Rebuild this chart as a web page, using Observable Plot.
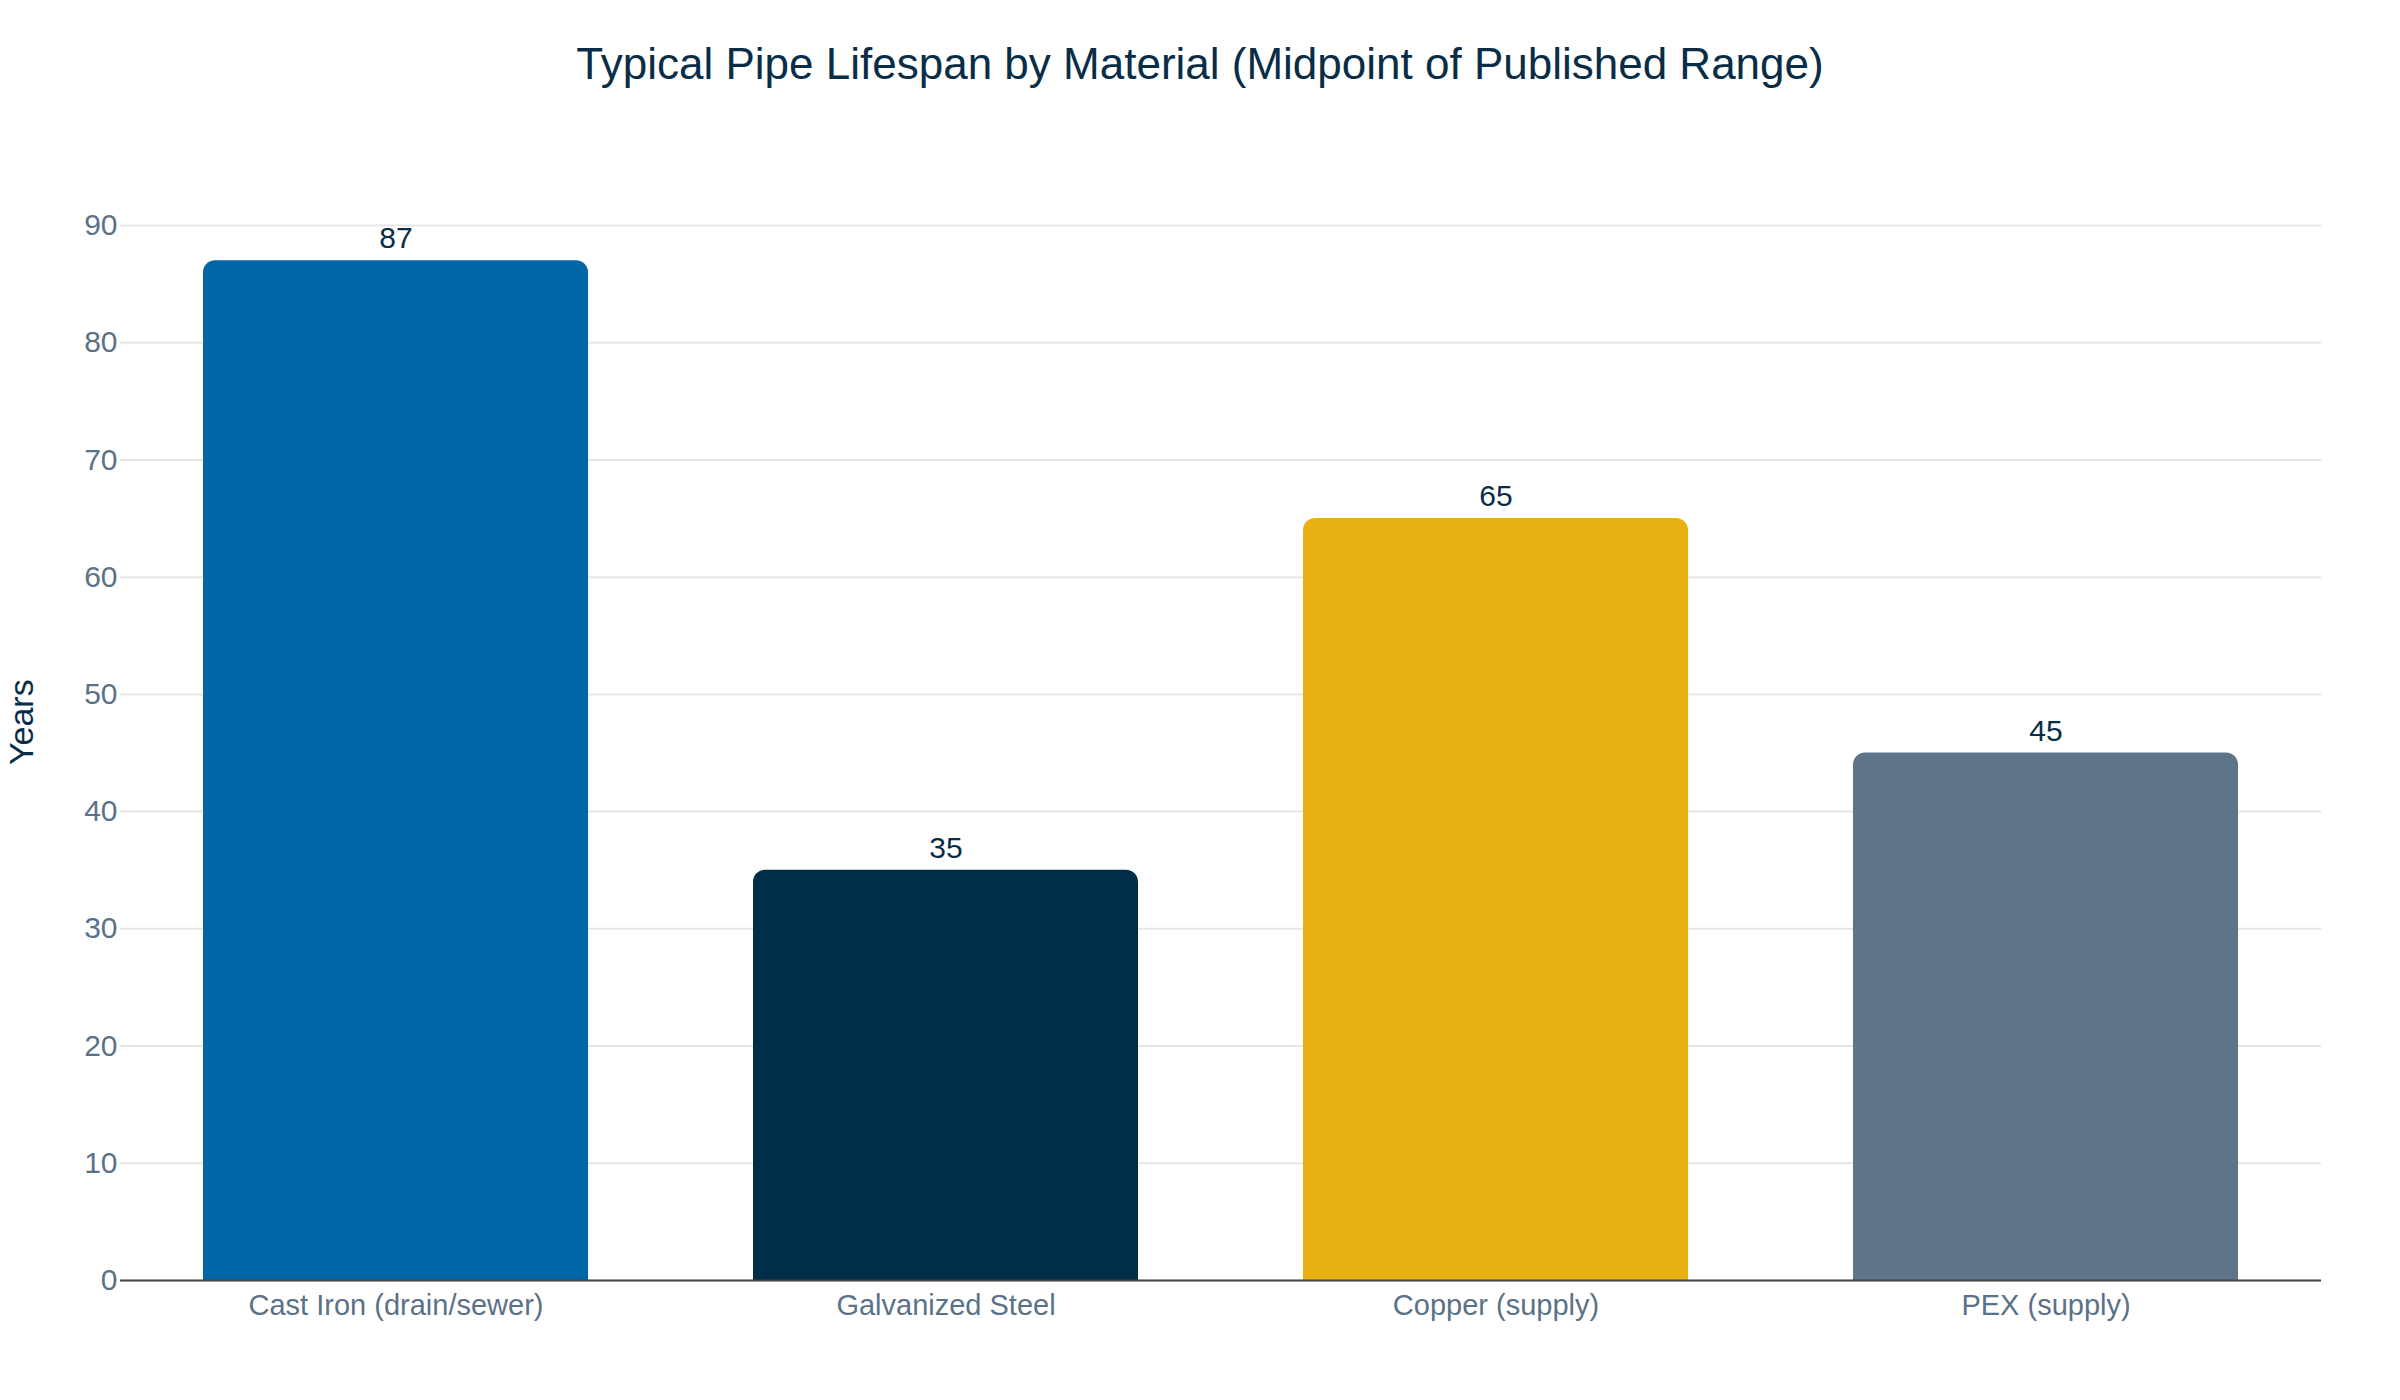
<!DOCTYPE html>
<html>
<head>
<meta charset="utf-8">
<script src="https://cdn.jsdelivr.net/npm/d3@7"></script>
<script src="https://cdn.jsdelivr.net/npm/@observablehq/plot@0.6"></script>
<style>
  html, body { margin: 0; padding: 0; background: #fff; }
  #wrap { width: 2400px; height: 1400px; overflow: hidden; }
  #title {
    height: 128px; line-height: 128px; text-align: center;
    font-family: "Liberation Sans", Arial, sans-serif; font-size: 44px; color: #0a2d47;
  }
</style>
</head>
<body>
<div id="wrap">
  <div id="title">Typical Pipe Lifespan by Material (Midpoint of Published Range)</div>
  <div id="chart"></div>
</div>
<script>
const materials = ["Cast Iron (drain/sewer)", "Galvanized Steel", "Copper (supply)", "PEX (supply)"];
const lifespans = [87, 35, 65, 45];
const yTicks = [0, 10, 20, 30, 40, 50, 60, 70, 80, 90];
const palette = ["#0066a6", "#002d47", "#e8b012", "#5e7489"];

const data = materials.map((m, i) => ({material: m, years: lifespans[i]}));

const chart = Plot.plot({
  width: 2400,
  height: 1272,
  marginTop: 97,
  marginBottom: 120,
  marginLeft: 120,
  marginRight: 79,
  style: {fontFamily: "'Liberation Sans', Arial, sans-serif", background: "#fff"},
  x: {domain: materials, paddingInner: 0.3, paddingOuter: 0.15, label: null},
  y: {domain: [0, 90], label: null},
  color: {domain: materials, range: palette},
  marks: [
    Plot.gridY(yTicks, {stroke: "#e6e6e6", strokeOpacity: 1, strokeWidth: 2}),
    Plot.barY(data, {x: "material", y: "years", fill: "material", ry1: 12}),
    Plot.ruleY([0], {stroke: "#444", strokeWidth: 2}),
    Plot.axisY({ticks: yTicks, tickSize: 0, tickPadding: 3, fontSize: 30, color: "#5a7289", label: null}),
    Plot.axisX({tickSize: 0, tickPadding: 14, fontSize: 29, color: "#5a7289", label: null}),
    Plot.text(data, {x: "material", y: "years", text: d => String(d.years), dy: -22, fontSize: 30, fill: "#0a2d47"}),
    Plot.text(["Years"], {frameAnchor: "left", text: d => d, rotate: -90, dx: -98, dy: 12, fontSize: 34, fill: "#0a2d47"})
  ]
});
document.getElementById("chart").appendChild(chart);
</script>
</body>
</html>
